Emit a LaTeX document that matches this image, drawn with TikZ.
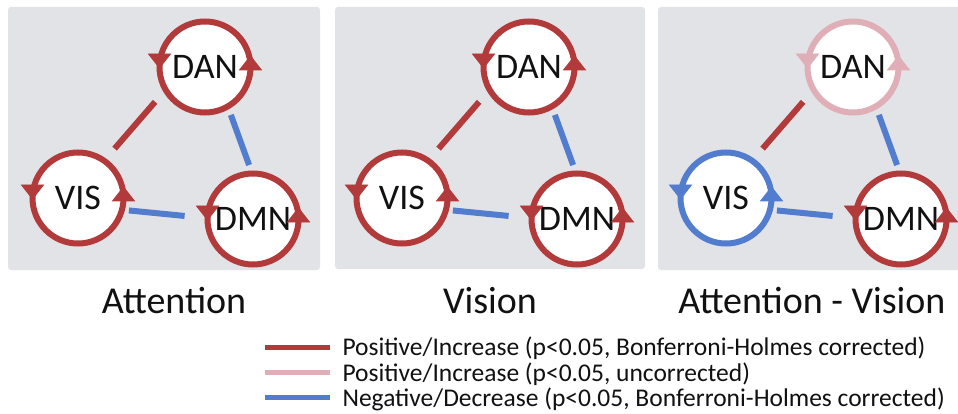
\documentclass[tikz,border=0pt]{standalone}
\usepackage{fontspec}
\setmainfont{Carlito}
\usetikzlibrary{calc}
\definecolor{cred}{RGB}{178,58,58}
\definecolor{cpink}{RGB}{224,174,182}
\definecolor{cblue}{RGB}{82,124,206}
\definecolor{cpanel}{RGB}{226,227,230}
\definecolor{ctext}{RGB}{17,17,17}
\tikzset{
  panelbox/.style={fill=cpanel, draw=none, rounded corners=3pt},
  ring/.style={circle, draw=#1, fill=white, line width=6pt, minimum size=91pt,
    inner sep=0pt, outer sep=0pt, text=ctext, font=\fontsize{36pt}{40pt}\selectfont},
  ringtip/.style={fill=#1, draw=#1, line width=0.8pt, line join=miter},
  link/.style={draw=#1, line width=6pt},
  paneltitle/.style={anchor=base, text=ctext, font=\fontsize{38pt}{44pt}\selectfont},
  legline/.style={draw=#1, line width=5pt},
  legtext/.style={anchor=base west, text=ctext, font=\fontsize{25.5pt}{30pt}\selectfont},
}
% arrowheads on a ring: left one points down, right one points up
\newcommand\ringarrows[2]{%
  \filldraw[ringtip=#2] ($(#1.center)+(-45.5,1)$) -- ($(#1.center)+(-56.5,-13)$) -- ($(#1.center)+(-34.5,-13)$) -- cycle;
  \filldraw[ringtip=#2] ($(#1.center)+(45.5,-11)$) -- ($(#1.center)+(56.5,3)$) -- ($(#1.center)+(34.5,3)$) -- cycle;
}
\begin{document}
\begin{tikzpicture}[x=1pt,y=-1pt]
\useasboundingbox (0,0) rectangle (958,414);
\fill[white] (0,0) rectangle (958,414);

% panel backgrounds
\fill[panelbox] (8,7) rectangle (320,270);
\fill[panelbox] (335,7) rectangle (645,269);
\fill[panelbox] (658,7) rectangle (962,270);

% ---------- panel 1: Attention ----------
\node[ring=cred] (DAN1) at (205,67) {DAN};
\node[ring=cred] (VIS1) at (78,198) {VIS};
\node[ring=cred] (DMN1) at (253,219) {DMN};
\ringarrows{DAN1}{cred}
\ringarrows{VIS1}{cred}
\ringarrows{DMN1}{cred}
\draw[link=cred, shorten <=16pt, shorten >=16pt] (DAN1.210) -- (VIS1.55);
\draw[link=cblue, shorten <=9pt, shorten >=9pt] (DAN1.300) -- (DMN1.91);
\draw[link=cblue, shorten <=7pt, shorten >=23pt] (VIS1.345) -- (DMN1.179);
\node[paneltitle] (T1) at (174,313) {Attention};

% ---------- panel 2: Vision ----------
\begin{scope}[xshift=324pt]
\node[ring=cred] (DAN2) at (205,67) {DAN};
\node[ring=cred] (VIS2) at (78,198) {VIS};
\node[ring=cred] (DMN2) at (253,219) {DMN};
\ringarrows{DAN2}{cred}
\ringarrows{VIS2}{cred}
\ringarrows{DMN2}{cred}
\draw[link=cred, shorten <=16pt, shorten >=16pt] (DAN2.210) -- (VIS2.55);
\draw[link=cblue, shorten <=9pt, shorten >=9pt] (DAN2.300) -- (DMN2.91);
\draw[link=cblue, shorten <=7pt, shorten >=23pt] (VIS2.345) -- (DMN2.179);
\end{scope}
\node[paneltitle] (T2) at (490,313) {Vision};

% ---------- panel 3: Attention - Vision ----------
\begin{scope}[xshift=648pt]
\node[ring=cpink] (DAN3) at (205,67) {DAN};
\node[ring=cblue] (VIS3) at (78,198) {VIS};
\node[ring=cred] (DMN3) at (253,219) {DMN};
\ringarrows{DAN3}{cpink}
\ringarrows{VIS3}{cblue}
\ringarrows{DMN3}{cred}
\draw[link=cred, shorten <=16pt, shorten >=16pt] (DAN3.210) -- (VIS3.55);
\draw[link=cblue, shorten <=9pt, shorten >=9pt] (DAN3.300) -- (DMN3.91);
\draw[link=cblue, shorten <=7pt, shorten >=23pt] (VIS3.345) -- (DMN3.179);
\end{scope}
\node[paneltitle] (T3) at (812,313) {Attention - Vision};

% ---------- legend ----------
\coordinate (La1) at (265,347); \coordinate (Lb1) at (330,347);
\coordinate (La2) at (265,372); \coordinate (Lb2) at (330,372);
\coordinate (La3) at (265,397); \coordinate (Lb3) at (330,397);
\draw[legline=cred] (La1) -- (Lb1);
\draw[legline=cpink] (La2) -- (Lb2);
\draw[legline=cblue] (La3) -- (Lb3);
\node[legtext] (L1) at (339,355) {Positive/Increase (p<0.05, Bonferroni-Holmes corrected)};
\node[legtext] (L2) at (339,381) {Positive/Increase (p<0.05, uncorrected)};
\node[legtext] (L3) at (339,406) {Negative/Decrease (p<0.05, Bonferroni-Holmes corrected)};
\end{tikzpicture}
\end{document}
